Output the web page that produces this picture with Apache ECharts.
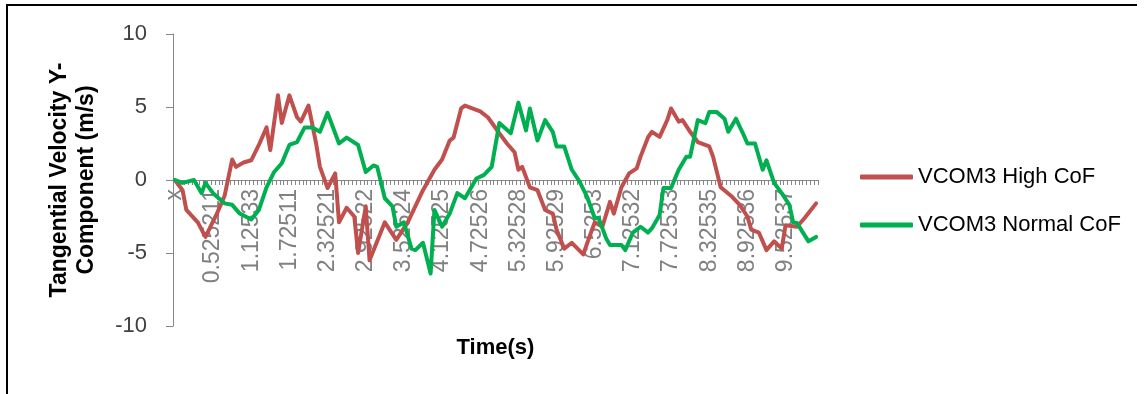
<!DOCTYPE html>
<html>
<head>
<meta charset="utf-8">
<script src="https://cdn.jsdelivr.net/npm/echarts@6/dist/echarts.min.js"></script>
<style>
  html, body { margin: 0; padding: 0; background: #fff; }
  #line { width: 1147px; height: 394px; }
</style>
</head>
<body>
<div id="line"></div>
<script>
// tick labels shown every 10th category (first row is the header "x")
var tickLabels = ['x', '0.525211', '1.12533', '1.72511', '2.32521', '2.92522', '3.52524', '4.12525',
	'4.72526', '5.32528', '5.92529', '6.5253', '7.12532', '7.72533', '8.32535', '8.92536', '9.52537'];
var categoryCount = 169;

// [category index, value]
var highCoF = [[0, 0], [2, -0.7], [3, -2.05], [6, -2.9], [8, -3.9], [11, -2.3], [13, -1.1], [15, 1.4],
	[16, 0.9], [18, 1.2], [20, 1.35], [22, 2.4], [24, 3.6], [25, 2.05], [27, 5.8], [28, 3.9], [30, 5.8],
	[32, 4.3], [33, 4.0], [35, 5.1], [37, 2.5], [38, 0.9], [40, -0.55], [42, 0.45], [43, -2.9], [45, -1.9],
	[47, -2.5], [48, -5.0], [50, -1.8], [51, -5.5], [55, -2.9], [58, -4.1], [61, -2.9], [65, -0.7],
	[68, 0.7], [70, 1.4], [72, 2.7], [73, 2.9], [75, 4.9], [76, 5.1], [80, 4.7], [82, 4.3], [85, 3.2],
	[87, 2.5], [89, 1.9], [90, 0.7], [91, 0.9], [93, -0.5], [95, -0.7], [97, -2.05], [99, -2.3],
	[100, -3.4], [102, -4.7], [104, -4.3], [107, -5.1], [109, -3.6], [110, -2.9], [112, -3.2],
	[114, -1.5], [115, -2.3], [117, -0.5], [119, 0.45], [121, 0.8], [122, 1.6], [124, 2.95], [125, 3.3],
	[127, 2.95], [129, 4.1], [130, 4.9], [132, 4.0], [133, 4.1], [135, 3.3], [137, 2.6], [140, 2.3],
	[141, 1.6], [143, -0.5], [146, -1.15], [148, -1.7], [150, -2.5], [151, -3.4], [153, -3.6],
	[155, -4.8], [157, -4.2], [159, -4.7], [160, -3.1], [163, -3.2], [165, -2.6], [168, -1.6]];

var normalCoF = [[0, 0], [2, -0.2], [5, 0], [7, -0.9], [8, -0.2], [10, -0.9], [13, -1.6], [15, -1.7],
	[17, -2.3], [20, -2.7], [22, -2.05], [24, -0.5], [26, 0.55], [28, 1.15], [30, 2.4], [32, 2.6],
	[34, 3.6], [36, 3.6], [38, 3.3], [40, 4.6], [43, 2.5], [45, 2.9], [48, 2.4], [50, 0.55], [52, 1.0],
	[53, 0.9], [55, -1.25], [57, -1.8], [58, -3.2], [60, -2.9], [62, -4.7], [63, -4.8], [65, -4.3],
	[67, -6.4], [68, -2.05], [70, -3.2], [72, -2.3], [74, -0.9], [76, -1.25], [79, 0.1], [81, 0.35],
	[83, 0.9], [85, 3.9], [88, 3.2], [90, 5.3], [92, 3.4], [93, 4.9], [95, 2.7], [97, 4.1], [99, 3.3],
	[100, 2.3], [102, 2.3], [104, 0.7], [106, -0.1], [108, -1.15], [110, -2.6], [111, -2.6], [113, -4.0],
	[114, -4.45], [117, -4.45], [118, -4.8], [120, -3.6], [122, -3.2], [124, -3.6], [125, -3.3],
	[127, -2.4], [128, -0.55], [130, -0.55], [132, 0.7], [134, 1.6], [135, 1.6], [137, 4.1], [139, 3.9],
	[140, 4.65], [142, 4.65], [144, 4.2], [145, 3.3], [147, 4.2], [149, 3.1], [150, 2.5], [152, 2.5],
	[154, 0.7], [155, 1.35], [157, -0.2], [159, -0.9], [161, -1.7], [162, -2.9], [163, -2.95],
	[166, -4.2], [168, -3.9]];

var categories = [];
for (var i = 0; i < categoryCount; i++) {
	categories.push(i % 10 === 0 ? tickLabels[i / 10] : ' ' + i);
}

var fontFamily = '"Liberation Sans", Arial, sans-serif';
var chart = echarts.init(document.getElementById('line'));
var option = {
	animation: false,
	graphic: [{
		type: 'polyline',
		shape: { points: [[7, 394], [7, 5], [1137, 5]] },
		style: { stroke: '#000', lineWidth: 2, fill: null }
	}],
	legend: {
		orient: 'vertical',
		left: 855,
		top: 161,
		icon: 'roundRect',
		itemWidth: 53,
		itemHeight: 5,
		itemGap: 26,
		textStyle: { fontFamily: fontFamily, fontSize: 22, color: '#000' },
		data: ['VCOM3 High CoF', 'VCOM3 Normal CoF']
	},
	grid: { left: 173, right: 329, top: 34, bottom: 68, containLabel: false, outerBoundsMode: 'none' },
	xAxis: {
		type: 'category',
		boundaryGap: true,
		data: categories,
		offset: -146, // axis sits on the zero line, labels with it
		name: 'Time(s)',
		nameLocation: 'middle',
		nameGap: 157,
		nameTextStyle: { fontFamily: fontFamily, fontSize: 22, fontWeight: 'bold', color: '#000' },
		axisLine: { onZero: false, lineStyle: { color: '#868686', width: 1 } },
		axisTick: { show: true, interval: 0, length: 5, lineStyle: { color: '#868686' } },
		axisLabel: {
			interval: 9,
			rotate: 90,
			margin: 9,
			color: '#808080',
			fontFamily: fontFamily,
			fontSize: 23
		},
		splitLine: { show: false }
	},
	yAxis: {
		type: 'value',
		min: -10,
		max: 10,
		interval: 5,
		name: 'Tangential Velocity Y-\nComponent (m/s)',
		nameLocation: 'middle',
		nameRotate: 90,
		nameGap: 73,
		nameTextStyle: { fontFamily: fontFamily, fontSize: 23, fontWeight: 'bold', color: '#000', lineHeight: 27 },
		axisLine: { show: true, lineStyle: { color: '#868686', width: 1 } },
		axisTick: { show: true, length: 7, lineStyle: { color: '#868686' } },
		axisLabel: { margin: 26, color: '#404040', fontFamily: fontFamily, fontSize: 22 },
		splitLine: { show: false }
	},
	series: [{
		name: 'VCOM3 High CoF',
		type: 'line',
		symbol: 'none',
		data: highCoF,
		itemStyle: { color: '#C0504D' },
		lineStyle: { color: '#C0504D', width: 4, join: 'round', cap: 'round' }
	}, {
		name: 'VCOM3 Normal CoF',
		type: 'line',
		symbol: 'none',
		data: normalCoF,
		itemStyle: { color: '#00B050' },
		lineStyle: { color: '#00B050', width: 4, join: 'round', cap: 'round' }
	}]
};
chart.setOption(option);
</script>
</body>
</html>
